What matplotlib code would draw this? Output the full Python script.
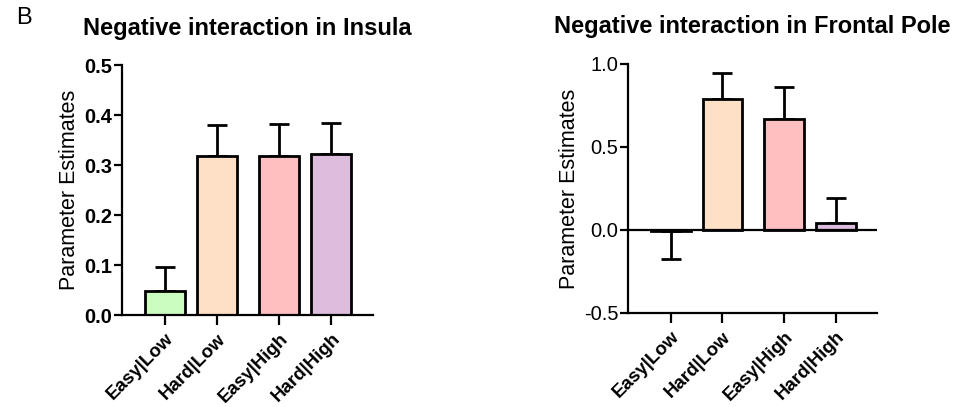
import matplotlib
matplotlib.use('Agg')
from matplotlib import pyplot as plt

plt.rcParams['font.family'] = ['Liberation Sans', 'DejaVu Sans']

conditions = ['Easy|Low', 'Hard|Low', 'Easy|High', 'Hard|High']
bar_colors = ['#cbfcc0', '#fde0c6', '#ffbfc1', '#dcbddd']

# Insula: mean and SEM
insula_mean = [0.049, 0.319, 0.319, 0.322]
insula_err = [0.048, 0.061, 0.064, 0.063]

# Frontal pole: mean and SEM
frontal_mean = [-0.007, 0.787, 0.669, 0.042]
frontal_err = [0.166, 0.157, 0.191, 0.153]

# grouped spacing (gap between Low and High groups)
xpos = [0, 1, 2.2, 3.2]


def draw_panel(ax, means, errs, title, yticks, ylim, bold_yticks):
    lower = [e if m < 0 else 0 for m, e in zip(means, errs)]
    upper = [e if m >= 0 else 0 for m, e in zip(means, errs)]
    ax.bar(xpos, means, width=0.77, color=bar_colors, edgecolor='black',
           linewidth=2.0, zorder=2)
    ax.errorbar(xpos, means, yerr=[lower, upper], fmt='none', ecolor='black',
                elinewidth=2.0, capsize=7, capthick=2.0, zorder=1)
    ax.set_xlim(-0.83, 4.0)
    ax.set_ylim(*ylim)
    ax.set_yticks(yticks)
    ax.set_yticklabels([f'{t:.1f}' for t in yticks],
                       fontweight='bold' if bold_yticks else 'normal', fontsize=14.5)
    ax.set_xticks(xpos)
    ax.set_xticklabels(conditions, rotation=45, ha='right', rotation_mode='anchor',
                       fontweight='bold', fontsize=13.5)
    for side in ['top', 'right']:
        ax.spines[side].set_visible(False)
    for side in ['left', 'bottom']:
        ax.spines[side].set_linewidth(1.6)
    ax.tick_params(axis='y', length=6, width=1.6, pad=1)
    ax.tick_params(axis='x', length=7, width=1.6, pad=4)
    ax.set_ylabel('Parameter Estimates', fontsize=15.5, labelpad=3)
    ax.set_title(title, fontsize=17, fontweight='bold', pad=22)


fig = plt.figure(figsize=(9.65, 4.07), dpi=100)

ax1 = fig.add_axes([0.1264, 0.226, 0.260, 0.614])
draw_panel(ax1, insula_mean, insula_err, 'Negative interaction in Insula',
           [0.0, 0.1, 0.2, 0.3, 0.4, 0.5], (0, 0.5), True)

ax2 = fig.add_axes([0.6508, 0.231, 0.258, 0.612])
draw_panel(ax2, frontal_mean, frontal_err, 'Negative interaction in Frontal Pole',
           [-0.5, 0.0, 0.5, 1.0], (-0.5, 1.0), False)
ax2.axhline(0, color='black', linewidth=1.6, zorder=3)

fig.text(0.017, 0.955, 'B', fontsize=17, ha='left', va='center')

fig.savefig('out.png', dpi=100, facecolor='white')
